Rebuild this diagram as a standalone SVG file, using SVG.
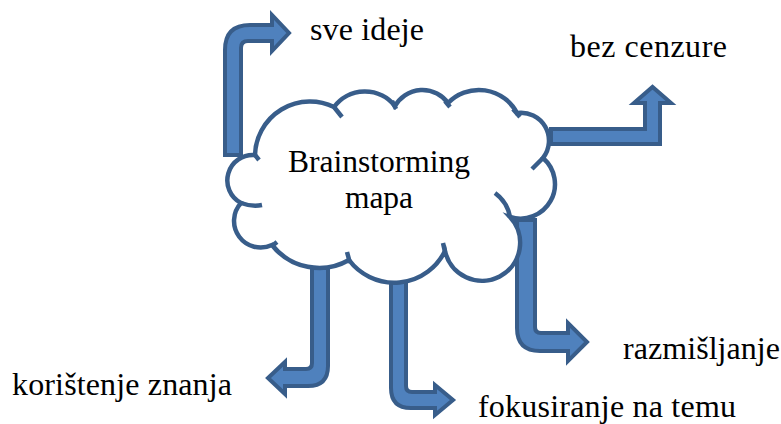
<svg xmlns="http://www.w3.org/2000/svg" width="781" height="424" viewBox="0 0 781 424">
<style>
.arr{fill:#4F81BD;stroke:#385D8A;stroke-width:4;stroke-linejoin:miter}
.cloud{fill:#FFFFFF;stroke:#385D8A;stroke-width:4.5}
.tick{fill:none;stroke:#385D8A;stroke-width:4.5}
</style>
<rect width="781" height="424" fill="#FFFFFF"/>
<g id="connectors">
<path class="arr" d="M225,155 L225,50 Q225,25 250,25 L272,25 L272,15 L289,33 L272,51 L272,41 L248,41 Q241,41 241,48 L241,155 Z"/>
<path class="arr" d="M551,129 L645,129 L645,103 L634,103 L652.5,87 L671,103 L660,103 L660,144 L551,144 Z"/>
<path class="arr" d="M517,220 L535,220 L535,327 Q535,333 541,333 L568,333 L568,323 L587,342 L568,361 L568,351 L540,351 Q517,351 517,328 Z"/>
<path class="arr" d="M391,282 L406,282 L406,386 Q406,392 412,392 L435,392 L435,385 L453,400 L435,415 L435,408 L411,408 Q391,408 391,388 Z"/>
<path class="arr" d="M312,268 L328,268 L328,366 Q328,386 308,386 L285,386 L285,394 L268,378 L285,362 L285,369 L306,369 Q312,369 312,363 Z"/>
</g>
<g font-family="Liberation Serif, Times New Roman, serif" font-size="32" fill="#000000">
<g id="cloud">
<path class="cloud" d="M255,155 A55,55 0 0 1 334,107 A38.5,38.5 0 0 1 395,106 A31.5,31.5 0 0 1 448,103 A43,43 0 0 1 517,113 A28,28 0 0 1 543,158 A34.5,34.5 0 0 1 510,217 A38,38 0 1 1 445,251 A56.5,56.5 0 0 1 349,260 A60,60 0 0 1 272,245 A26.6,26.6 0 0 1 241,203 A25.5,25.5 0 0 1 255,155 Z"/>
<path class="tick" d="M255,155 L259,160 M334,107 L342,117 M392,101 L396,109 M445,101 L450,107 M513,109 L520,117 M543,158 L532,169 M510,217 A38,38 0 0 0 495,193 M443,243 L445,252 M347,252 L350,263 M277,242 L272,246 M241,203 Q252,207 262,205"/>
<text x="379" y="172" text-anchor="middle" font-size="31.5" textLength="182" lengthAdjust="spacing">Brainstorming</text>
<text x="379" y="208" text-anchor="middle" font-size="31.5">mapa</text>
</g>
<g id="lbl-sve"><text x="310" y="40" textLength="114" lengthAdjust="spacing">sve ideje</text></g>
<g id="lbl-bez"><text x="570" y="57" textLength="157" lengthAdjust="spacing">bez cenzure</text></g>
<g id="lbl-razm"><text x="623" y="359" textLength="157" lengthAdjust="spacing">razmišljanje</text></g>
<g id="lbl-kor"><text x="12" y="395" textLength="220" lengthAdjust="spacing">korištenje znanja</text></g>
<g id="lbl-fok"><text x="478" y="417" textLength="258" lengthAdjust="spacing">fokusiranje na temu</text></g>
</g>
</svg>
